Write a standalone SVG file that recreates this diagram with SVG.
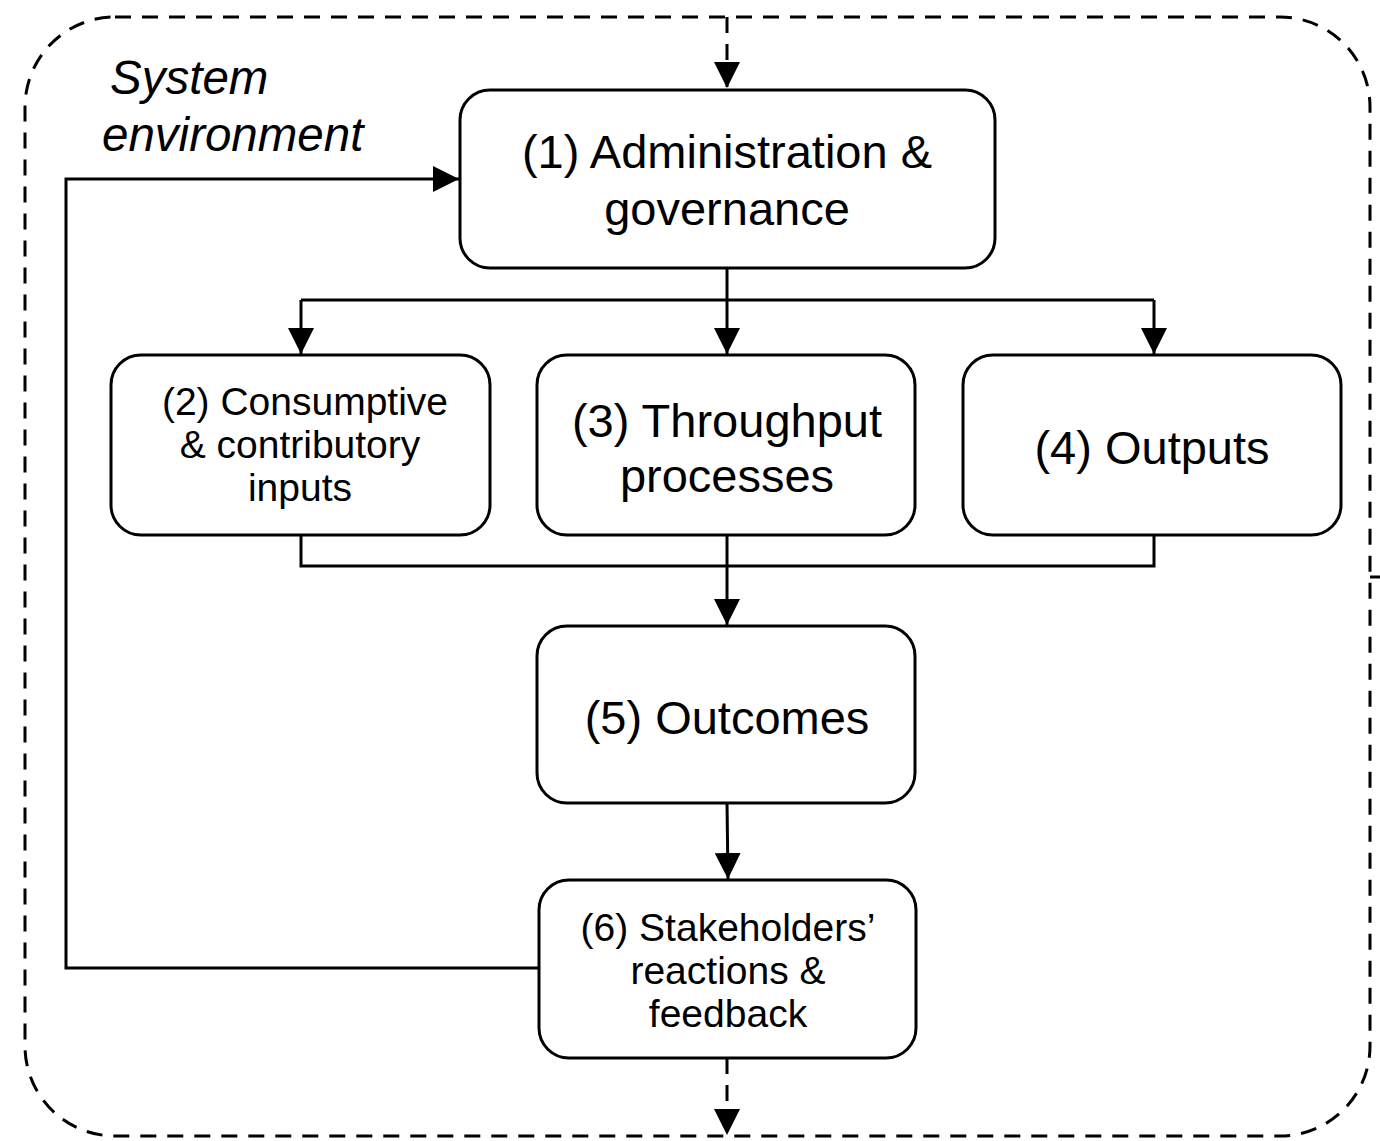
<svg xmlns="http://www.w3.org/2000/svg" width="1380" height="1141" viewBox="0 0 1380 1141">
<style>
.box{fill:#fff;stroke:#000;stroke-width:3}
.ln{fill:none;stroke:#000;stroke-width:3}
.dash{fill:none;stroke:#000;stroke-width:3;stroke-dasharray:16 11}
text{font-family:"Liberation Sans",Arial,sans-serif;fill:#000;text-anchor:middle}
.big{font-size:47px}
.sm{font-size:39px}
.it{font-style:italic;font-size:47.5px;text-anchor:start}
</style>
<defs>
<marker id="ah" markerUnits="userSpaceOnUse" markerWidth="26" markerHeight="26" refX="26" refY="13" orient="auto">
<path d="M0,0 L26,13 L0,26 z" fill="#000"/>
</marker>
</defs>
<rect class="dash" x="25" y="17" width="1345" height="1119" rx="90" ry="90"/>
<g id="label-env">
<text class="it" x="110" y="94">System</text>
<text class="it" x="102" y="151">environment</text>
</g>
<g id="connectors">
<path class="dash" d="M727,17 V88" marker-end="url(#ah)"/>
<path class="dash" d="M727,1058 V1135" marker-end="url(#ah)"/>
<path class="ln" d="M1370,577 H1380"/>
<path class="ln" d="M727,268 V300"/>
<path class="ln" d="M301,300 H1154"/>
<path class="ln" d="M301,300 V354" marker-end="url(#ah)"/>
<path class="ln" d="M727,300 V354" marker-end="url(#ah)"/>
<path class="ln" d="M1154,300 V354" marker-end="url(#ah)"/>
<path class="ln" d="M301,535 V566 H1154 V535"/>
<path class="ln" d="M727,535 V625" marker-end="url(#ah)"/>
<path class="ln" d="M727,803 L728,879" marker-end="url(#ah)"/>
<path class="ln" d="M539,968 H66 V179 H459" marker-end="url(#ah)"/>
</g>
<g id="n1">
<rect class="box" x="460" y="90" width="535" height="178" rx="30"/>
<text class="big" x="727" y="168">(1) Administration &amp;</text>
<text class="big" x="727" y="225">governance</text>
</g>
<g id="n2">
<rect class="box" x="111" y="355" width="379" height="180" rx="30"/>
<text class="sm" x="305" y="415">(2) Consumptive</text>
<text class="sm" x="300" y="458">&amp; contributory</text>
<text class="sm" x="300" y="501">inputs</text>
</g>
<g id="n3">
<rect class="box" x="537" y="355" width="378" height="180" rx="30"/>
<text class="big" x="727" y="437">(3) Throughput</text>
<text class="big" x="727" y="492">processes</text>
</g>
<g id="n4">
<rect class="box" x="963" y="355" width="378" height="180" rx="30"/>
<text class="big" x="1152" y="464">(4) Outputs</text>
</g>
<g id="n5">
<rect class="box" x="537" y="626" width="378" height="177" rx="30"/>
<text class="big" x="727" y="734">(5) Outcomes</text>
</g>
<g id="n6">
<rect class="box" x="539" y="880" width="377" height="178" rx="30"/>
<text class="sm" x="728" y="941">(6) Stakeholders’</text>
<text class="sm" x="728" y="984">reactions &amp;</text>
<text class="sm" x="728" y="1027">feedback</text>
</g>
</svg>
